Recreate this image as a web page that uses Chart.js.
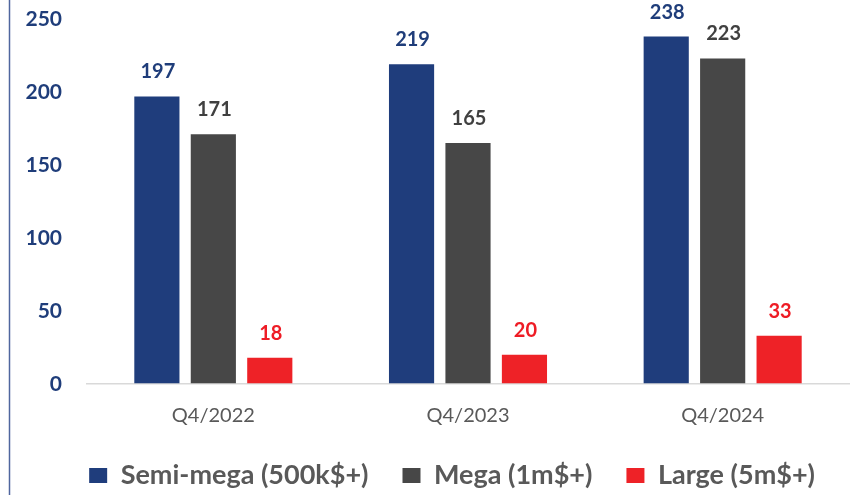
<!DOCTYPE html>
<html>
<head>
<meta charset="utf-8">
<script src="https://cdn.jsdelivr.net/npm/chart.js@4.4.1/dist/chart.umd.min.js"></script>
<style>
html,body{margin:0;padding:0;background:#fff;}
#wrap{width:859px;height:495px;position:relative;}
</style>
</head>
<body>
<div id="wrap"><canvas id="c" width="859" height="495"></canvas></div>
<script>
const categories = ['Q4/2022', 'Q4/2023', 'Q4/2024'];
const seriesNames = ['Semi-mega (500k$+)', 'Mega (1m$+)', 'Large (5m$+)'];
const semiMega = [197, 219, 238];
const mega = [171, 165, 223];
const large = [18, 20, 33];
const yTickValues = [0, 50, 100, 150, 200, 250];

const barColors = ['#1f3d7c', '#474747', '#ee2227'];
const labelColors = ['#1f3d7a', '#404040', '#ee1c25'];
const FONT = 'Lato, "Open Sans", sans-serif';

const valueLabels = {
  id: 'valueLabels',
  afterDatasetsDraw(chart) {
    const ctx = chart.ctx;
    ctx.save();
    ctx.font = 'bold 20px ' + FONT;
    ctx.textAlign = 'center';
    ctx.textBaseline = 'alphabetic';
    chart.data.datasets.forEach((ds, i) => {
      const meta = chart.getDatasetMeta(i);
      ctx.fillStyle = labelColors[i];
      meta.data.forEach((bar, j) => {
        ctx.fillText(String(ds.data[j]), bar.x + 1, bar.y - 18);
      });
    });
    ctx.restore();
  }
};

const leftRule = {
  id: 'leftRule',
  beforeDraw(chart) {
    const ctx = chart.ctx;
    ctx.save();
    ctx.strokeStyle = '#4f669e';
    ctx.lineWidth = 1.5;
    ctx.beginPath();
    ctx.moveTo(9.5, 0);
    ctx.lineTo(9.5, chart.height);
    ctx.stroke();
    ctx.restore();
  }
};

// compact legend box vertically, and place its row like the reference
const legendFit = {
  id: 'legendFit',
  beforeUpdate(chart) {
    const lg = chart.legend;
    if (lg && !lg._patched) {
      const orig = lg.fit.bind(lg);
      lg.fit = function () { orig(); this.height = 67; };
      lg._patched = true;
    }
  },
  afterLayout(chart) {
    if (chart.legend) chart.legend.right = 849;
  }
};

new Chart(document.getElementById('c'), {
  type: 'bar',
  data: {
    labels: categories,
    datasets: [
      { label: seriesNames[0], data: semiMega, backgroundColor: barColors[0] },
      { label: seriesNames[1], data: mega, backgroundColor: barColors[1] },
      { label: seriesNames[2], data: large, backgroundColor: barColors[2] }
    ]
  },
  options: {
    responsive: false,
    animation: false,
    devicePixelRatio: 1,
    categoryPercentage: 0.665,
    barPercentage: 0.8,
    layout: { padding: { top: 19, right: 9, left: 0, bottom: 0 } },
    plugins: {
      tooltip: { enabled: false },
      legend: {
        position: 'bottom',
        align: 'end',
        labels: {
          boxWidth: 18,
          boxHeight: 15,
          padding: 34,
          color: '#595959',
          font: { family: FONT, size: 27, weight: 'bold' }
        }
      }
    },
    scales: {
      x: {
        grid: { display: false },
        border: { display: false },
        ticks: { color: '#595959', padding: 12, font: { family: FONT, size: 20 } },
        afterFit(s) { s.height = 44; }
      },
      y: {
        min: 0,
        max: 250,
        afterBuildTicks(s) { s.ticks = yTickValues.map(v => ({ value: v })); },
        grid: {
          drawTicks: true,
          tickLength: 24,
          tickColor: 'rgba(0,0,0,0)',
          lineWidth: 1.5,
          color: (c) => (c.tick && c.tick.value === 0 ? '#d9d9d9' : 'rgba(0,0,0,0)')
        },
        border: { display: false },
        ticks: { color: '#1f3d7a', padding: 0, font: { family: FONT, size: 21, weight: 'bold' } },
        afterFit(s) { s.width = 86; }
      }
    }
  },
  plugins: [valueLabels, leftRule, legendFit]
});
</script>
</body>
</html>
